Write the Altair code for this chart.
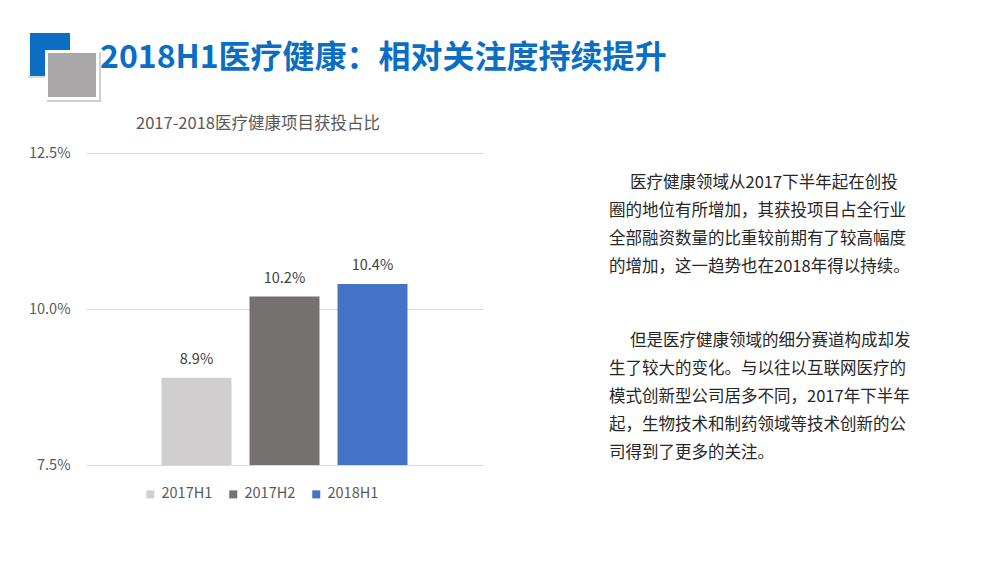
import altair as alt
import pandas as pd

# ---------------- data ----------------
periods = ["2017H1", "2017H2", "2018H1"]
shares = [0.089, 0.102, 0.104]
bar_colors = ["#D0CECE", "#767171", "#4472C4"]
y_ticks = [0.075, 0.100, 0.125]

page_title = "2018H1医疗健康：相对关注度持续提升"
chart_title = "2017-2018医疗健康项目获投占比"
para1 = [
    "医疗健康领域从2017下半年起在创投",
    "圈的地位有所增加，其获投项目占全行业",
    "全部融资数量的比重较前期有了较高幅度",
    "的增加，这一趋势也在2018年得以持续。",
]
para2 = [
    "但是医疗健康领域的细分赛道构成却发",
    "生了较大的变化。与以往以互联网医疗的",
    "模式创新型公司居多不同，2017年下半年",
    "起，生物技术和制药领域等技术创新的公",
    "司得到了更多的关注。",
]

# ---------------- layout ----------------
PX, PY, PW, PH = 86, 153, 397, 312
FONT = "Noto Sans CJK SC"
LH = 28

df = pd.DataFrame({"period": periods, "share": shares})
one = pd.DataFrame({"k": [0]})


def vx(x):
    return alt.value(x - PX)


def vy(y):
    return alt.value(y - PY)


def rect(x0, y0, x1, y1, color):
    return alt.Chart(one).mark_rect(color=color).encode(
        x=vx(x0), x2=vx(x1), y=vy(y0), y2=vy(y1)
    )


def text_block(lines, x, y):
    return alt.Chart(pd.DataFrame({"t": ["\n".join(lines)]})).mark_text(
        fontSize=16.5, color="#262626", font=FONT, align="left",
        baseline="middle", lineBreak="\n", lineHeight=LH
    ).encode(x=vx(x), y=vy(y), text="t:N")


x_enc = alt.X(
    "period:N",
    sort=periods,
    axis=None,
    scale=alt.Scale(paddingInner=0.2045, paddingOuter=0.858),
)
y_enc = alt.Y(
    "share:Q",
    scale=alt.Scale(domain=[0.075, 0.125], zero=False, nice=False),
    axis=alt.Axis(
        values=y_ticks,
        format=".1%",
        title=None,
        domain=False,
        ticks=False,
        labelPadding=16,
        labelFontSize=14.5,
        labelColor="#595959",
        labelFont=FONT,
        gridColor="#D9D9D9",
        gridWidth=1,
    ),
)

bars = alt.Chart(df).mark_bar(clip=True).encode(
    x=x_enc,
    y=y_enc,
    color=alt.Color(
        "period:N",
        sort=periods,
        scale=alt.Scale(domain=periods, range=bar_colors),
        legend=alt.Legend(
            orient="none",
            legendX=143 - PX,
            legendY=487 - PY,
            direction="horizontal",
            title=None,
            symbolType="square",
            symbolSize=64,
            symbolStrokeWidth=0,
            symbolOpacity=1,
            labelFontSize=14.5,
            labelColor="#595959",
            labelFont=FONT,
            labelOffset=4,
            columnPadding=13,
            padding=0,
        ),
    ),
)

labels = alt.Chart(df).mark_text(
    dy=-18, fontSize=14.5, color="#404040", font=FONT
).encode(x=x_enc, y=y_enc, text=alt.Text("share:Q", format=".1%"))

title_txt = alt.Chart(pd.DataFrame({"t": [chart_title]})).mark_text(
    fontSize=16.5, color="#595959", font=FONT, align="center", baseline="middle"
).encode(x=vx(258), y=vy(124), text="t:N")

page_title_txt = alt.Chart(pd.DataFrame({"t": [page_title]})).mark_text(
    fontSize=32, fontWeight="bold", color="#0B6EC5", font=FONT,
    align="left", baseline="middle"
).encode(x=vx(100), y=vy(58), text="t:N")

paragraphs = [
    text_block(para1[:1], 630, 183),
    text_block(para1[1:], 609, 183 + LH),
    text_block(para2[:1], 630, 341),
    text_block(para2[1:], 609, 341 + LH),
]

logo = [
    rect(28, 76, 46, 78, "#D8D8D8"),
    rect(30, 33, 70, 76, "#0A6FC2"),
    rect(47, 52, 101, 102, "#CFCFCF"),
    rect(45, 50, 99, 100, "#FFFFFF"),
    rect(48, 53, 96, 97, "#A9A7A7"),
]

chart = alt.layer(
    bars, labels, title_txt, page_title_txt, *paragraphs, *logo
).properties(
    width=PW,
    height=PH,
    padding={"left": PX, "top": PY, "right": 1000 - PX - PW, "bottom": 563 - PY - PH},
    autosize=alt.AutoSizeParams(type="none"),
    background="white",
).configure_view(stroke=None)

chart.save("out.html", embed_options={"renderer": "svg", "actions": False})
